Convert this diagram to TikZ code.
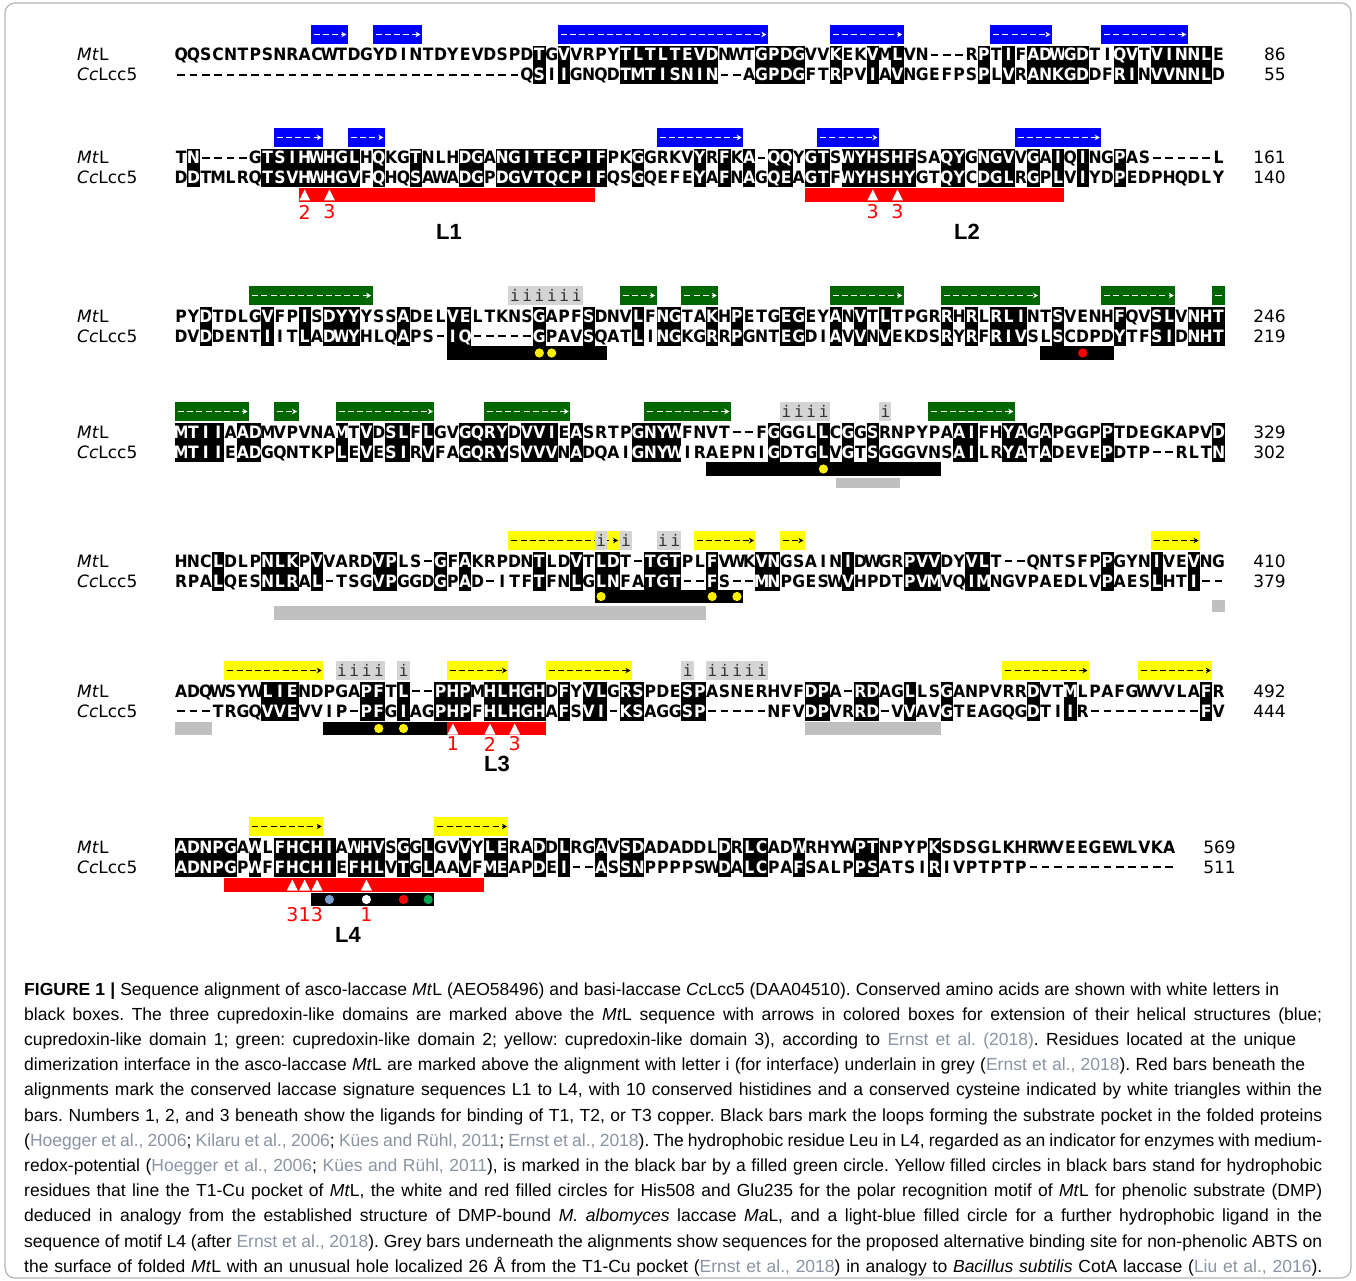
\documentclass[tikz,border=0pt]{standalone}
\usepackage{fontspec}
\setmainfont{Liberation Sans}
\newfontfamily\seqfont[FakeStretch=0.92]{DejaVu Sans}
\newfontfamily\labfont{DejaVu Sans}
\newfontfamily\ifont{DejaVu Sans Mono}
\usetikzlibrary{arrows.meta}
\definecolor{domblue}{HTML}{0000FF}
\definecolor{domgreen}{HTML}{006600}
\definecolor{domyellow}{HTML}{FFFF00}
\definecolor{igrey}{HTML}{D4D4D4}
\definecolor{bargrey}{HTML}{C0C0C0}
\definecolor{citegrey}{HTML}{8A94A2}
\definecolor{framegrey}{HTML}{B4B4B4}
\definecolor{dotblue}{HTML}{7B9FD0}
\definecolor{dotgreen}{HTML}{00A651}
\definecolor{dotyellow}{HTML}{FFF000}
\definecolor{redbar}{HTML}{FF0000}
\frenchspacing

\newlength\cw \setlength\cw{12.35pt}
\def\seqh{15pt}\def\seqd{4.7pt}
\def\rowA{\def\seqh{15pt}\def\seqd{4.7pt}}
\def\rowB{\def\seqh{16.3pt}\def\seqd{3.5pt}}
\makeatletter
\def\seqline#1{\seq@loop#1\relax}
\def\seq@loop#1{\ifx#1\relax\else\seq@char#1\expandafter\seq@loop\fi}
\def\seq@dash{\hbox to\cw{\hss\vrule width 7.6pt height 6.6pt depth -4.6pt\hss}}
\def\seq@char#1{\ifnum`#1=45 \seq@dash\else\ifnum`#1>96 \hbox to\cw{\rlap{\vrule width\cw height\seqh depth\seqd}\hss\textcolor{white}{\uppercase{#1}}\hss}\else\hbox to\cw{\hss#1\hss}\fi\fi}
\def\plainline#1{\plain@loop#1\relax}
\def\plain@loop#1{\ifx#1\relax\else\hbox to\cw{\hss#1\hss}\expandafter\plain@loop\fi}
\makeatother

% helpers
\newcommand\dombar[5]{% fill, arrow colour, Y, c1, c2
  \fill[#1] ({175+(#4-1)*12.35},{#3-30}) rectangle ({175+#5*12.35},{#3-11});
  \draw[#2,line width=1.4pt,dash pattern=on 6pt off 3.2pt,-{Stealth[length=5pt,width=5.5pt]}]
    ({175+(#4-1)*12.35+3},{#3-20.5}) -- ({175+#5*12.35-1.5},{#3-20.5});}
\newcommand\ibox[5]{% name, Y, c1, c2, letters
  \fill[igrey] ({175+(#3-1)*12.35},{#2-30}) rectangle ({175+#4*12.35},{#2-11});
  \node[itext] (#1) at ({175+(#3-1)*12.35},{#2-15}) {\plainline{#5}};}
\newcommand\ubar[5]{% colour, y top, y bottom, c1, c2
  \fill[#1] ({175+(#4-1)*12.35},#2) rectangle ({175+#5*12.35},#3);}
\newcommand\tri[2]{% bar top, col
  \fill[white] ({175+(#2-0.5)*12.35-5.5},{#1+12.5}) -- ({175+(#2-0.5)*12.35+5.5},{#1+12.5}) -- ({175+(#2-0.5)*12.35},{#1+1.5}) -- cycle;}
\newcommand\resdot[3]{% colour, y, col
  \fill[#1] ({175+(#3-0.5)*12.35},#2) circle[radius=4.6];}
\newcommand\rnum[4]{% name, y, col, text
  \node[rednum] (#1) at ({175+(#3-0.5)*12.35},#2) {#4};}
\newcommand\seqblock[7]{% id, Y, MtL, CcLcc5, n1, n2, number right edge
  \node[seqrow] (m#1) at (175,{#2+6}) {\rowA\seqline{#3}};
  \node[seqrow] (c#1) at (175,{#2+26}) {\rowB\seqline{#4}};
  \node[lab] (lm#1) at (77,{#2+6}) {\textit{Mt}L};
  \node[lab] (lc#1) at (77,{#2+26}) {\textit{Cc}Lcc5};
  \node[num] (nm#1) at (#7,{#2+6}) {#5};
  \node[num] (nc#1) at (#7,{#2+26}) {#6};}
\newcommand\ct[1]{\textcolor{citegrey}{#1}}

\begin{document}
\begin{tikzpicture}[x=1pt,y=-1pt,
  seqrow/.style={anchor=base west,inner sep=0pt,outer sep=0pt,font=\seqfont\bfseries\fontsize{17}{20}\selectfont},
  lab/.style={anchor=base west,inner sep=0pt,font=\labfont\fontsize{17}{20}\selectfont},
  num/.style={anchor=base east,inner sep=0pt,font=\labfont\fontsize{17}{20}\selectfont},
  itext/.style={anchor=base west,inner sep=0pt,font=\ifont\fontsize{16}{16}\selectfont,text=black!80},
  rednum/.style={inner sep=0pt,text=redbar,font=\labfont\fontsize{19}{20}\selectfont},
  loop/.style={inner sep=0pt,font=\bfseries\fontsize{22}{24}\selectfont},
  capline/.style={anchor=base west,inner sep=0pt,font=\frenchspacing\fontsize{17.5}{20}\selectfont}]
\useasboundingbox (0,0) rectangle (1356,1281);
\fill[white] (0,0) rectangle (1356,1281);
\draw[framegrey,line width=1.2pt,rounded corners=10pt] (5,3) rectangle (1351,1278);

% ---------------- block 1
\dombar{domblue}{white}{55}{12}{14}
\dombar{domblue}{white}{55}{17}{20}
\dombar{domblue}{white}{55}{32}{48}
\dombar{domblue}{white}{55}{54}{59}
\dombar{domblue}{white}{55}{67}{71}
\dombar{domblue}{white}{55}{76}{82}
\seqblock{1}{55}{QQSCNTPSNRACWTDGYDINTDYEVDSPDtGvVRPYtltltevdNWTgpdgVVkEKvMlVN---RpTiFadwgdTIqvTvinnlE}{----------------------------QsIiGNQDtmtisnin--AgpdgFTrPViAvNGEFPSpLvRankgdDFriNvvnnlD}{86}{55}{1286}

% ---------------- block 2
\dombar{domblue}{white}{158}{9}{12}
\dombar{domblue}{white}{158}{15}{17}
\dombar{domblue}{white}{158}{40}{46}
\dombar{domblue}{white}{158}{53}{57}
\dombar{domblue}{white}{158}{69}{75}
\seqblock{2}{158}{Tn----GtsihwhglHqKGtNLHdgAngitecpifPKgGRKVyRfKa-qqYgtSwyhshfSAqyGngvVgAiQiNGpAS-----L}{DdTMLRQtsvhwhgvFqHQsAWAdgPdgvtqcpifQSgQEFEyAfNaGqeAgtFwyhshyGTqyCdglRgPlViYDpEDPHQDLY}{161}{140}{1286}
\ubar{redbar}{188}{202}{11}{34}
\ubar{redbar}{188}{202}{52}{72}
\tri{188}{11}\tri{188}{13}\tri{188}{57}\tri{188}{59}
\rnum{r2a}{212}{11}{2}\rnum{r2b}{212}{13}{3}\rnum{r2c}{212}{57}{3}\rnum{r2d}{212}{59}{3}
\node[loop] (L1) at (449,232) {L1};
\node[loop] (L2) at (967,232) {L2};

% ---------------- block 3
\dombar{domgreen}{white}{316}{7}{16}
\dombar{domgreen}{white}{316}{37}{39}
\dombar{domgreen}{white}{316}{42}{44}
\dombar{domgreen}{white}{316}{54}{59}
\dombar{domgreen}{white}{316}{63}{70}
\dombar{domgreen}{white}{316}{76}{81}
\fill[domgreen] ({175+84*12.35},286) rectangle ({175+85*12.35},305);
\draw[white,line width=1.4pt] ({175+84*12.35+3},295.5) -- ({175+85*12.35-3},295.5);
\ibox{i3a}{316}{28}{33}{iiiiii}
\seqblock{3}{316}{PYdTDLGvFPiSdyyYSSaDELveLTKNSgAPFsDNVlFngTAkHpETGegEYaNvTlTPGRrHrLrliNTsVENHfQVslVnht}{DVdDENTiITlAdwyHLQaPS-iq-----gPAVsQATlIngKGrRpGNTegDIaVvNvEKDSrYrFrivSLsCDPDyTFsiDnht}{246}{219}{1286}
\ubar{black}{346}{360}{23}{35}
\resdot{dotyellow}{353}{30}\resdot{dotyellow}{353}{31}
\ubar{black}{346}{360}{71}{76}
\resdot{red}{353}{74}

% ---------------- block 4
\dombar{domgreen}{white}{432}{1}{6}
\dombar{domgreen}{white}{432}{9}{10}
\dombar{domgreen}{white}{432}{14}{21}
\dombar{domgreen}{white}{432}{26}{32}
\dombar{domgreen}{white}{432}{39}{45}
\dombar{domgreen}{white}{432}{62}{68}
\ibox{i4a}{432}{50}{53}{iiii}
\ibox{i4b}{432}{58}{58}{i}
\seqblock{4}{432}{mtiiAadMVPVNAmTvDslFlGVgqryDvviEaSRTPgnywFNVT--FgGGLlCgGsRNPYPAaiFHyaGaPGGPpTDEGKAPVd}{mtiiEadGQNTKPlEvEsiRvFAgqrySvvvNaDQAIgnywIRAEPNIgDTGlVgTsGGGVNSaiLRyaTaDEVEpDTP--RLTn}{329}{302}{1286}
\ubar{black}{462}{476}{44}{62}
\resdot{dotyellow}{469}{53}
\fill[bargrey] (836,478) rectangle (900,488);

% ---------------- block 5
\dombar{domyellow}{black}{561}{28}{36}
\ibox{i5a}{561}{35}{35}{i}
\ibox{i5b}{561}{37}{37}{i}
\ibox{i5c}{561}{40}{41}{ii}
\dombar{domyellow}{black}{561}{43}{47}
\dombar{domyellow}{black}{561}{50}{51}
\dombar{domyellow}{black}{561}{80}{83}
\seqblock{5}{561}{HNClDLPnlkPvVARDvpLS-gFaKRPDNtLDvTldT-tgtPLfVWKvnGSAINiDWGRpvvDYvlT--QNTSFPpGYNiVEvNG}{RPAlQESnlrAl-TSGvpGGDgPaD-ITFtFNlGlnFAtgt--fS--mnPGESWvHPDTpvmVQimNGVPAEDLVpAESlHTi--}{410}{379}{1286}
\ubar{black}{590}{603}{35}{46}
\resdot{dotyellow}{596.5}{35}\resdot{dotyellow}{596.5}{44}\resdot{dotyellow}{596.5}{46}
\ubar{bargrey}{606}{620}{9}{43}
\ubar{bargrey}{600}{612}{85}{85}

% ---------------- block 6
\dombar{domyellow}{black}{691}{5}{12}
\ibox{i6a}{691}{14}{17}{iiii}
\ibox{i6b}{691}{19}{19}{i}
\dombar{domyellow}{black}{691}{23}{27}
\dombar{domyellow}{black}{691}{31}{37}
\ibox{i6c}{691}{42}{42}{i}
\ibox{i6d}{691}{44}{48}{iiiii}
\dombar{domyellow}{black}{691}{68}{74}
\dombar{domyellow}{black}{691}{79}{84}
\seqblock{6}{691}{ADQWSYWlieNDPGApfTl--phpMhlhghDfYvlGrsPDEspASNERHVFdpA-rdAGlLSgANPVRRdVTmLPAFGWVVLAfR}{---TRGQvveVVIP-pfGiAGphpFhlhghAfSvi-ksAGGsp-----NFVdpVRrd-VvAVgTEAGQGdTIiR---------fV}{492}{444}{1286}
\ubar{bargrey}{722}{735}{1}{3}
\ubar{black}{722}{735}{13}{22}
\ubar{redbar}{722}{735}{23}{30}
\ubar{bargrey}{722}{735}{52}{62}
\resdot{dotyellow}{728.5}{17}\resdot{dotyellow}{728.5}{19}
\tri{722}{23}\tri{722}{26}\tri{722}{28}
\rnum{r6a}{744}{23}{1}\rnum{r6b}{744}{26}{2}\rnum{r6c}{744}{28}{3}
\node[loop] (L3) at (497,764) {L3};

% ---------------- block 7
\dombar{domyellow}{black}{847}{7}{12}
\dombar{domyellow}{black}{847}{22}{27}
\seqblock{7}{847}{adnpgAwLfhchiAwhvSgGlGVvYleRAdDlRGaVsdADADDLdRlcADwRHYWptNPYPkSDSGLKHRWVEEGEWLVKA}{adnpgPwFfhchiEfhlVtGlAAvFmeAPdEi--aSsnPPPPSWdAlcPAfSALPpsATSIrIVPTPTP------------}{569}{511}{1236}
\ubar{redbar}{878}{892}{5}{25}
\tri{878}{10}\tri{878}{11}\tri{878}{12}\tri{878}{16}
\ubar{black}{893}{906}{12}{21}
\resdot{dotblue}{899.5}{13}\resdot{white}{899.5}{16}\resdot{red}{899.5}{19}\resdot{dotgreen}{899.5}{21}
\rnum{r7a}{915}{10}{3}\rnum{r7b}{915}{11}{1}\rnum{r7c}{915}{12}{3}\rnum{r7d}{915}{16}{1}
\node[loop] (L4) at (348,935) {L4};

% ---------------- caption
\node[capline] (cap1) at (24,995) {\makebox[1255pt][s]{\textbf{FIGURE 1 |} Sequence alignment of asco-laccase \textit{Mt}L (AEO58496) and basi-laccase \textit{Cc}Lcc5 (DAA04510). Conserved amino acids are shown with white letters in}};
\node[capline] (cap2) at (24,1020.2) {\makebox[1298pt][s]{black boxes. The three cupredoxin-like domains are marked above the \textit{Mt}L sequence with arrows in colored boxes for extension of their helical structures (blue;}};
\node[capline] (cap3) at (24,1045.4) {\makebox[1272pt][s]{cupredoxin-like domain 1; green: cupredoxin-like domain 2; yellow: cupredoxin-like domain 3), according to \ct{Ernst et al. (2018)}. Residues located at the unique}};
\node[capline] (cap4) at (24,1070.6) {\makebox[1281pt][s]{dimerization interface in the asco-laccase \textit{Mt}L are marked above the alignment with letter i (for interface) underlain in grey (\ct{Ernst et al., 2018}). Red bars beneath the}};
\node[capline] (cap5) at (24,1095.8) {\makebox[1298pt][s]{alignments mark the conserved laccase signature sequences L1 to L4, with 10 conserved histidines and a conserved cysteine indicated by white triangles within the}};
\node[capline] (cap6) at (24,1121.0) {\makebox[1298pt][s]{bars. Numbers 1, 2, and 3 beneath show the ligands for binding of T1, T2, or T3 copper. Black bars mark the loops forming the substrate pocket in the folded proteins}};
\node[capline] (cap7) at (24,1146.2) {\makebox[1298pt][s]{(\ct{Hoegger et al., 2006}; \ct{Kilaru et al., 2006}; \ct{Kües and Rühl, 2011}; \ct{Ernst et al., 2018}). The hydrophobic residue Leu in L4, regarded as an indicator for enzymes with medium-}};
\node[capline] (cap8) at (24,1171.4) {\makebox[1298pt][s]{redox-potential (\ct{Hoegger et al., 2006}; \ct{Kües and Rühl, 2011}), is marked in the black bar by a filled green circle. Yellow filled circles in black bars stand for hydrophobic}};
\node[capline] (cap9) at (24,1196.6) {\makebox[1298pt][s]{residues that line the T1-Cu pocket of \textit{Mt}L, the white and red filled circles for His508 and Glu235 for the polar recognition motif of \textit{Mt}L for phenolic substrate (DMP)}};
\node[capline] (cap10) at (24,1221.8) {\makebox[1298pt][s]{deduced in analogy from the established structure of DMP-bound \textit{M. albomyces} laccase \textit{Ma}L, and a light-blue filled circle for a further hydrophobic ligand in the}};
\node[capline] (cap11) at (24,1247.0) {\makebox[1298pt][s]{sequence of motif L4 (after \ct{Ernst et al., 2018}). Grey bars underneath the alignments show sequences for the proposed alternative binding site for non-phenolic ABTS on}};
\node[capline] (cap12) at (24,1272.2) {\makebox[1298pt][s]{the surface of folded \textit{Mt}L with an unusual hole localized 26 Å from the T1-Cu pocket (\ct{Ernst et al., 2018}) in analogy to \textit{Bacillus subtilis} CotA laccase (\ct{Liu et al., 2016}).}};
\end{tikzpicture}
\end{document}
